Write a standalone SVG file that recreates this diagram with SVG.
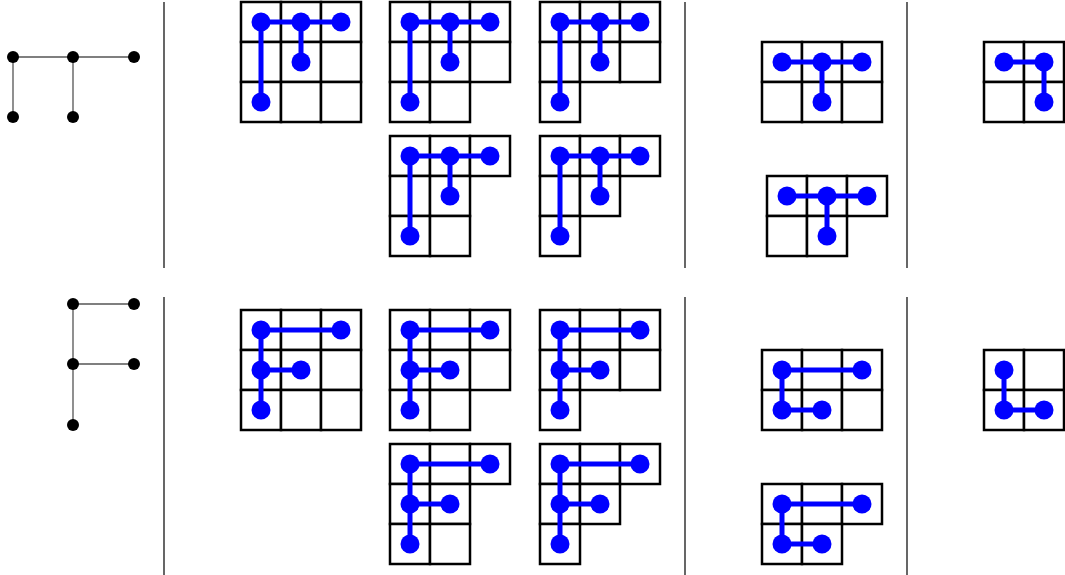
<svg xmlns="http://www.w3.org/2000/svg" width="1065" height="575" viewBox="0 0 1065 575">
<style>
.c{fill:#fff;stroke:#000;stroke-width:2.5}
.e{stroke:#0000ff;stroke-width:5;fill:none;stroke-linecap:round}
.d{fill:#0000ff}
.ge{stroke:#555;stroke-width:1.3;fill:none}
.gn{fill:#000}
.sep{stroke:#000;stroke-width:1.2}
</style>
<defs>
<rect id="cell" class="c" width="40" height="40"/>
<circle id="dot" class="d" r="9.5"/>
<circle id="gnode" class="gn" r="6"/>
<g id="T">
<path class="e" d="M20,20H100M20,20V100M60,20V60"/>
<use href="#dot" x="20" y="20"/><use href="#dot" x="60" y="20"/><use href="#dot" x="100" y="20"/><use href="#dot" x="60" y="60"/><use href="#dot" x="20" y="100"/>
</g>
<g id="F">
<path class="e" d="M20,20H100M20,20V100M20,60H60"/>
<use href="#dot" x="20" y="20"/><use href="#dot" x="100" y="20"/><use href="#dot" x="20" y="60"/><use href="#dot" x="60" y="60"/><use href="#dot" x="20" y="100"/>
</g>
<g id="r3"><use href="#cell" x="0"/><use href="#cell" x="40"/><use href="#cell" x="80"/></g>
<g id="r2"><use href="#cell" x="0"/><use href="#cell" x="40"/></g>
</defs>
<g id="separators">
<line class="sep" x1="164" y1="2" x2="164" y2="268"/>
<line class="sep" x1="685" y1="2" x2="685" y2="268"/>
<line class="sep" x1="907" y1="2" x2="907" y2="268"/>
<line class="sep" x1="164" y1="297" x2="164" y2="575"/>
<line class="sep" x1="685" y1="297" x2="685" y2="575"/>
<line class="sep" x1="907" y1="297" x2="907" y2="575"/>
</g>
<g id="graph-top">
<g id="connectors-top">
<path class="ge" d="M13,57H134M13,57V117M73,57V117"/>
</g>
<use href="#gnode" x="13" y="57"/><use href="#gnode" x="73" y="57"/><use href="#gnode" x="134" y="57"/><use href="#gnode" x="13" y="117"/><use href="#gnode" x="73" y="117"/>
</g>
<g id="graph-bottom">
<g id="connectors-bottom">
<path class="ge" d="M73,304H134M73,304V425M73,364H134"/>
</g>
<use href="#gnode" x="73" y="304"/><use href="#gnode" x="134" y="304"/><use href="#gnode" x="73" y="364"/><use href="#gnode" x="134" y="364"/><use href="#gnode" x="73" y="425"/>
</g>
<!-- top half -->
<g id="t1" transform="translate(241,2)"><use href="#r3"/><use href="#r3" y="40"/><use href="#r3" y="80"/><use href="#T"/></g>
<g id="t2" transform="translate(390,2)"><use href="#r3"/><use href="#r3" y="40"/><use href="#r2" y="80"/><use href="#T"/></g>
<g id="t3" transform="translate(540,2)"><use href="#r3"/><use href="#r3" y="40"/><use href="#cell" y="80"/><use href="#T"/></g>
<g id="t4" transform="translate(390,136)"><use href="#r3"/><use href="#r2" y="40"/><use href="#r2" y="80"/><use href="#T"/></g>
<g id="t5" transform="translate(540,136)"><use href="#r3"/><use href="#r2" y="40"/><use href="#cell" y="80"/><use href="#T"/></g>
<g id="t6" transform="translate(762,42)"><use href="#r3"/><use href="#r3" y="40"/>
<path class="e" d="M20,20H100M60,20V60"/><use href="#dot" x="20" y="20"/><use href="#dot" x="60" y="20"/><use href="#dot" x="100" y="20"/><use href="#dot" x="60" y="60"/></g>
<g id="t7" transform="translate(767,176)"><use href="#r3"/><use href="#r2" y="40"/>
<path class="e" d="M20,20H100M60,20V60"/><use href="#dot" x="20" y="20"/><use href="#dot" x="60" y="20"/><use href="#dot" x="100" y="20"/><use href="#dot" x="60" y="60"/></g>
<g id="t8" transform="translate(984,42)"><use href="#r2"/><use href="#r2" y="40"/>
<path class="e" d="M20,20H60V60"/><use href="#dot" x="20" y="20"/><use href="#dot" x="60" y="20"/><use href="#dot" x="60" y="60"/></g>
<!-- bottom half -->
<g id="b1" transform="translate(241,310)"><use href="#r3"/><use href="#r3" y="40"/><use href="#r3" y="80"/><use href="#F"/></g>
<g id="b2" transform="translate(390,310)"><use href="#r3"/><use href="#r3" y="40"/><use href="#r2" y="80"/><use href="#F"/></g>
<g id="b3" transform="translate(540,310)"><use href="#r3"/><use href="#r3" y="40"/><use href="#cell" y="80"/><use href="#F"/></g>
<g id="b4" transform="translate(390,444)"><use href="#r3"/><use href="#r2" y="40"/><use href="#r2" y="80"/><use href="#F"/></g>
<g id="b5" transform="translate(540,444)"><use href="#r3"/><use href="#r2" y="40"/><use href="#cell" y="80"/><use href="#F"/></g>
<g id="b6" transform="translate(762,350)"><use href="#r3"/><use href="#r3" y="40"/>
<path class="e" d="M100,20H20V60H60"/><use href="#dot" x="20" y="20"/><use href="#dot" x="100" y="20"/><use href="#dot" x="20" y="60"/><use href="#dot" x="60" y="60"/></g>
<g id="b7" transform="translate(762,484)"><use href="#r3"/><use href="#r2" y="40"/>
<path class="e" d="M100,20H20V60H60"/><use href="#dot" x="20" y="20"/><use href="#dot" x="100" y="20"/><use href="#dot" x="20" y="60"/><use href="#dot" x="60" y="60"/></g>
<g id="b8" transform="translate(984,350)"><use href="#r2"/><use href="#r2" y="40"/>
<path class="e" d="M20,20V60H60"/><use href="#dot" x="20" y="20"/><use href="#dot" x="20" y="60"/><use href="#dot" x="60" y="60"/></g>
</svg>
